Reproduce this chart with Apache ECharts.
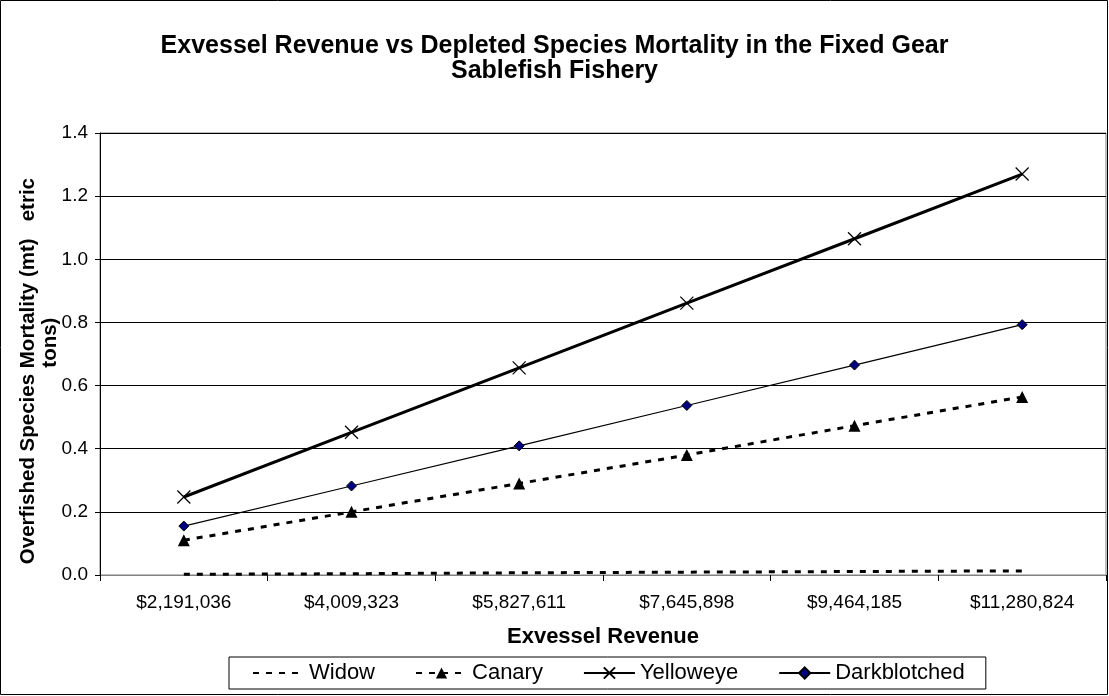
<!DOCTYPE html>
<html lang="en">
<head>
    <meta charset="UTF-8">
    <title>Exvessel Revenue vs Depleted Species Mortality</title>
    <script src="https://cdn.jsdelivr.net/npm/echarts@6/dist/echarts.min.js"></script>
    <style>
        body { margin: 0; }
    </style>
</head>
<body>
<div id="main" style="width: 1109px;height:696px;"></div>

<script type="text/javascript">

    var revenue = ['$2,191,036', '$4,009,323', '$5,827,611', '$7,645,898', '$9,464,185', '$11,280,824'];
    var widow = [0.002, 0.004, 0.007, 0.009, 0.011, 0.013];
    var canary = [0.11, 0.2, 0.29, 0.38, 0.473, 0.564];
    var yelloweye = [0.247, 0.452, 0.656, 0.861, 1.065, 1.27];
    var darkblotched = [0.155, 0.282, 0.409, 0.537, 0.665, 0.793];

    var font = 'Arial, "Liberation Sans", sans-serif';
    var xMark = 'path://M0,0L10,10M10,0L0,10';

    var myChart = echarts.init(document.getElementById('main'));

    myChart.setOption({
        animation: false,
        textStyle: { fontFamily: font, color: '#000' },
        title: {
            text: 'Exvessel Revenue vs Depleted Species Mortality in the Fixed Gear\nSablefish Fishery',
            left: 'center',
            top: 29,
            textStyle: { fontFamily: font, fontSize: 25, fontWeight: 'bold', color: '#000', lineHeight: 25 }
        },
        graphic: [{
            type: 'rect',
            shape: { x: 0.5, y: 0.5, width: 1107, height: 694 },
            style: { fill: 'none', stroke: '#000', lineWidth: 1 },
            silent: true
        }],
        grid: {
            left: 100, right: 3, top: 133, bottom: 121,
            show: true, borderColor: '#808080', borderWidth: 1
        },
        legend: {
            left: 229,
            top: 657,
            orient: 'horizontal',
            borderColor: '#000',
            borderWidth: 1,
            padding: [5, 21, 5, 23],
            itemGap: 40,
            itemWidth: 51,
            itemHeight: 14,
            textStyle: { fontFamily: font, fontSize: 22, color: '#000' },
            data: ['Widow', 'Canary', 'Yelloweye', 'Darkblotched']
        },
        xAxis: {
            type: 'category',
            data: revenue,
            boundaryGap: true,
            name: 'Exvessel Revenue',
            nameLocation: 'middle',
            nameGap: 51,
            nameMoveOverlap: false,
            nameTextStyle: { fontFamily: font, fontSize: 22, fontWeight: 'bold', color: '#000' },
            axisLine: { lineStyle: { color: '#808080', width: 1 } },
            axisTick: { show: true, length: 6, lineStyle: { color: '#000' } },
            axisLabel: { fontFamily: font, fontSize: 19, color: '#000', margin: 18 }
        },
        yAxis: {
            type: 'value',
            min: 0,
            max: 1.4,
            interval: 0.2,
            name: 'Overfished Species Mortality (mt)   etric      \n    tons)',
            nameLocation: 'middle',
            nameGap: 39,
            nameMoveOverlap: false,
            nameTextStyle: { fontFamily: font, fontSize: 20.5, fontWeight: 'bold', color: '#000', lineHeight: 22 },
            axisLine: { show: true, lineStyle: { color: '#000', width: 1 } },
            axisTick: { show: true, length: 5, lineStyle: { color: '#000' } },
            axisLabel: {
                fontFamily: font, fontSize: 19, color: '#000', margin: 12,
                formatter: function (v) { return v.toFixed(1); }
            },
            splitLine: { lineStyle: { color: '#000', width: 1 } }
        },
        series: [{
            name: 'Widow',
            type: 'line',
            data: widow,
            symbol: 'none',
            lineStyle: { color: '#000', width: 3, type: [6, 7] },
            itemStyle: { color: '#000', opacity: 0 }
        }, {
            name: 'Canary',
            type: 'line',
            data: canary,
            symbol: 'triangle',
            symbolSize: 12,
            lineStyle: { color: '#000', width: 3, type: [6, 7] },
            itemStyle: { color: '#000' }
        }, {
            name: 'Yelloweye',
            type: 'line',
            data: yelloweye,
            symbol: xMark,
            symbolSize: 13,
            lineStyle: { color: '#000', width: 3 },
            itemStyle: { color: 'none', borderColor: '#000', borderWidth: 1.2 }
        }, {
            name: 'Darkblotched',
            type: 'line',
            data: darkblotched,
            symbol: 'diamond',
            symbolSize: 10,
            lineStyle: { color: '#000', width: 1.2 },
            itemStyle: { color: '#000080', borderColor: '#000', borderWidth: 1 }
        }]
    });

</script>
</body>
</html>
